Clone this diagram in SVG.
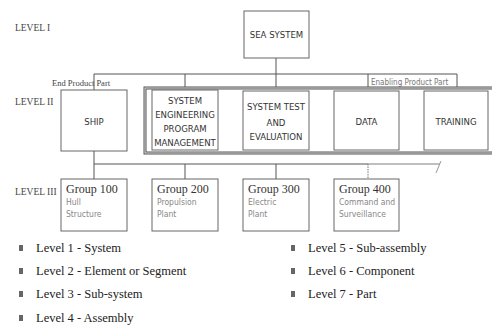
<svg xmlns="http://www.w3.org/2000/svg" width="492" height="329" viewBox="0 0 492 329">
<style>
text{font-family:"DejaVu Sans Condensed","Liberation Sans Narrow","Liberation Sans",sans-serif;fill:#333}
.box{fill:#fff;stroke:#666;stroke-width:1}
.c{text-anchor:middle;font-size:9.5px}
.lv{font-size:9.5px;fill:#444;font-family:"Liberation Serif",serif}
.g{font-size:12px;fill:#333;font-family:"Liberation Serif",serif}
.s{font-size:8.5px;fill:#888}
.lg{font-size:12.5px;fill:#222;font-family:"Liberation Serif",serif}
.ln{stroke:#555;stroke-width:1;fill:none}
.bul{fill:#666}
</style>
<rect width="492" height="329" fill="#fff"/>
<text class="lv" x="15" y="31">LEVEL I</text>
<text class="lv" x="15" y="105">LEVEL II</text>
<text class="lv" x="15" y="195">LEVEL III</text>
<g id="connectors">
<line class="ln" x1="276" y1="58" x2="276" y2="89"/>
<line class="ln" x1="94" y1="74" x2="457" y2="74"/>
<line class="ln" x1="94" y1="74" x2="94" y2="90"/>
<line class="ln" x1="185" y1="74" x2="185" y2="88"/>
<line class="ln" x1="368" y1="74" x2="368" y2="88"/>
<line class="ln" x1="457" y1="74" x2="457" y2="88"/>
<line class="ln" x1="94" y1="151" x2="94" y2="179"/>
<line class="ln" x1="94" y1="164" x2="368" y2="164" stroke-width="1.5"/>
<line x1="368" y1="164" x2="440" y2="164" stroke="#aaa" stroke-width="1.5"/>
<line x1="441" y1="161" x2="436" y2="173" stroke="#999" stroke-width="1"/>
<line class="ln" x1="185" y1="164" x2="185" y2="179"/>
<line class="ln" x1="276" y1="164" x2="276" y2="179"/>
<line x1="368" y1="164" x2="368" y2="179" stroke="#777" stroke-dasharray="1.5,1"/>
</g>
<text x="52" y="86" style="font-size:8.5px;fill:#444;font-family:'Liberation Serif',serif">End Product Part</text>
<text x="371" y="85" style="font-size:8px;fill:#777">Enabling Product Part</text>
<g id="enabling-frame">
<rect x="145" y="88" width="350" height="65" fill="none" stroke="#555" stroke-width="3"/>
<rect x="145" y="88" width="350" height="65" fill="none" stroke="#ddd" stroke-width="1"/>
</g>
<g id="sea-system"><rect class="box" x="244" y="11" width="65" height="47"/><text class="c" x="276.5" y="38">SEA SYSTEM</text></g>
<g id="ship"><rect class="box" x="61" y="90" width="66" height="61"/><text class="c" x="94" y="125">SHIP</text></g>
<g id="sepm"><rect class="box" x="152" y="90" width="66" height="60"/>
<text class="c" x="185" y="104">SYSTEM</text><text class="c" x="185" y="118">ENGINEERING</text><text class="c" x="185" y="132">PROGRAM</text><text class="c" x="185" y="146">MANAGEMENT</text></g>
<g id="ste"><rect class="box" x="243" y="91" width="66" height="59"/>
<text class="c" x="276" y="110">SYSTEM TEST</text><text class="c" x="276" y="126">AND</text><text class="c" x="276" y="140">EVALUATION</text></g>
<g id="data"><rect class="box" x="334" y="91" width="65" height="59"/><text class="c" x="366.5" y="125">DATA</text></g>
<g id="training"><rect class="box" x="424" y="91" width="64" height="59"/><text class="c" x="456" y="125">TRAINING</text></g>
<g id="g100"><rect class="box" x="61" y="179" width="66" height="52"/><text class="g" x="66" y="193">Group 100</text><text class="s" x="66" y="205">Hull</text><text class="s" x="66" y="217">Structure</text></g>
<g id="g200"><rect class="box" x="152" y="179" width="66" height="52"/><text class="g" x="157" y="193">Group 200</text><text class="s" x="157" y="205">Propulsion</text><text class="s" x="157" y="217">Plant</text></g>
<g id="g300"><rect class="box" x="243" y="179" width="66" height="52"/><text class="g" x="248" y="193">Group 300</text><text class="s" x="248" y="205">Electric</text><text class="s" x="248" y="217">Plant</text></g>
<g id="g400"><rect class="box" x="334" y="179" width="65" height="52"/><text class="g" x="339" y="193">Group 400</text><text class="s" x="339" y="205">Command and</text><text class="s" x="339" y="217">Surveillance</text></g>
<g id="legend">
<rect class="bul" x="19" y="245" width="4" height="6"/><text class="lg" x="36" y="252">Level 1 - System</text>
<rect class="bul" x="19" y="268" width="4" height="6"/><text class="lg" x="36" y="275">Level 2 - Element or Segment</text>
<rect class="bul" x="19" y="291" width="4" height="6"/><text class="lg" x="36" y="298">Level 3 - Sub-system</text>
<rect class="bul" x="19" y="315" width="4" height="6"/><text class="lg" x="36" y="322">Level 4 - Assembly</text>
<rect class="bul" x="291" y="245" width="4" height="6"/><text class="lg" x="308" y="252">Level 5 - Sub-assembly</text>
<rect class="bul" x="291" y="268" width="4" height="6"/><text class="lg" x="308" y="275">Level 6 - Component</text>
<rect class="bul" x="291" y="291" width="4" height="6"/><text class="lg" x="308" y="298">Level 7 - Part</text>
</g>
</svg>
